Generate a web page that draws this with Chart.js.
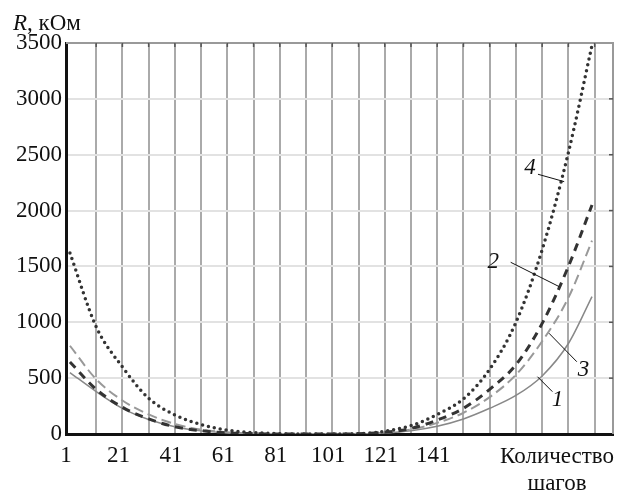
<!DOCTYPE html>
<html>
<head>
<meta charset="utf-8">
<script src="https://cdn.jsdelivr.net/npm/chart.js@4/dist/chart.umd.min.js"></script>
<style>
  html, body { margin: 0; padding: 0; background: #fff; }
  #wrap { width: 620px; height: 496px; }
</style>
</head>
<body>
<div id="wrap"><canvas id="chart" width="620" height="496"></canvas></div>
<script>
// step numbers and resistance curves (kOhm)
var steps = [1, 11, 21, 31, 41, 51, 61, 71, 81, 91, 101, 111, 121, 131, 141, 151, 161, 171, 181, 191, 200];
var r1 = [550, 380, 230, 130, 65, 28, 10, 3, 0, 0, 0, 2, 10, 30, 70, 135, 230, 345, 520, 810, 1230];
var r2 = [645, 400, 240, 135, 65, 30, 10, 3, 0, 0, 0, 2, 15, 50, 125, 230, 400, 620, 990, 1500, 2050];
var r3 = [790, 490, 300, 175, 90, 40, 15, 5, 0, 0, 0, 2, 12, 40, 100, 190, 330, 530, 830, 1220, 1730];
var r4 = [1620, 960, 600, 320, 170, 85, 35, 12, 3, 0, 0, 3, 25, 75, 175, 315, 580, 1000, 1650, 2520, 3480];

var xTicks = [1, 11, 21, 31, 41, 51, 61, 71, 81, 91, 101, 111, 121, 131, 141, 151, 161, 171, 181, 191, 201];
var xLabels = [1, 21, 41, 61, 81, 101, 121, 141];

// curve numbers with leader lines, in data units
var callouts = [
  { text: "4", tx: 176.4, ty: 2379, x1: 179.4, y1: 2325, x2: 189.4, y2: 2259 },
  { text: "2", tx: 162.4, ty: 1543, x1: 169.0, y1: 1537, x2: 187.5, y2: 1319 },
  { text: "3", tx: 196.8, ty: 573, x1: 183.6, y1: 902, x2: 194.2, y2: 647 },
  { text: "1", tx: 186.8, ty: 304, x1: 179.2, y1: 513, x2: 184.9, y2: 379 }
];

function pts(vals) {
  return steps.map(function(s, i) { return { x: s, y: vals[i] }; });
}

Chart.defaults.font.family = "'Liberation Serif', 'DejaVu Serif', serif";
Chart.defaults.font.size = 23;
Chart.defaults.color = "#111";

var extras = {
  id: "extras",
  afterDraw: function(chart) {
    var c = chart.ctx, a = chart.chartArea;
    var xs = chart.scales.x, ys = chart.scales.y;
    c.save();
    // top and right frame
    c.strokeStyle = "#999";
    c.lineWidth = 2;
    c.beginPath();
    c.moveTo(a.left, a.top);
    c.lineTo(a.right, a.top);
    c.lineTo(a.right, a.bottom);
    c.stroke();
    // small inward ticks on top and right
    c.strokeStyle = "#555";
    c.lineWidth = 1.5;
    xTicks.forEach(function(v) {
      if (v === 1) return;
      var px = xs.getPixelForValue(v);
      c.beginPath();
      c.moveTo(px, a.top);
      c.lineTo(px, a.top + 4);
      c.stroke();
    });
    for (var v = 500; v < 3500; v += 500) {
      var py = ys.getPixelForValue(v);
      c.beginPath();
      c.moveTo(a.right, py);
      c.lineTo(a.right - 4, py);
      c.stroke();
    }
    // callouts
    c.strokeStyle = "#111";
    c.lineWidth = 1;
    c.fillStyle = "#111";
    c.font = "italic 23px 'Liberation Serif'";
    c.textAlign = "center";
    c.textBaseline = "middle";
    callouts.forEach(function(o) {
      c.beginPath();
      c.moveTo(xs.getPixelForValue(o.x1), ys.getPixelForValue(o.y1));
      c.lineTo(xs.getPixelForValue(o.x2), ys.getPixelForValue(o.y2));
      c.stroke();
      c.fillText(o.text, xs.getPixelForValue(o.tx), ys.getPixelForValue(o.ty));
    });
    // axis titles
    c.textBaseline = "alphabetic";
    c.textAlign = "left";
    c.font = "italic 23px 'Liberation Serif'";
    c.fillText("R", 13, 30);
    var w = c.measureText("R").width;
    c.font = "23px 'Liberation Serif'";
    c.fillText(", кОм", 13 + w, 30);
    c.textAlign = "center";
    c.fillText("Количество", 557, 463);
    c.fillText("шагов", 557, 490);
    c.restore();
  }
};

var ctx = document.getElementById("chart").getContext("2d");
var chart = new Chart(ctx, {
  type: "line",
  data: {
    datasets: [
      { data: pts(r4), borderColor: "#333", borderWidth: 3.5, borderDash: [0, 6], borderCapStyle: "round" },
      { data: pts(r2), borderColor: "#333", borderWidth: 3, borderDash: [8, 6] },
      { data: pts(r3), borderColor: "#999", borderWidth: 2, borderDash: [10, 5] },
      { data: pts(r1), borderColor: "#888", borderWidth: 1.5 }
    ]
  },
  options: {
    responsive: false,
    animation: false,
    layout: { padding: { top: 43, right: 7, left: 0, bottom: 0 } },
    elements: {
      point: { radius: 0 },
      line: { cubicInterpolationMode: "monotone", fill: false }
    },
    plugins: { legend: { display: false }, tooltip: { enabled: false } },
    scales: {
      x: {
        type: "linear",
        min: -0.5,
        max: 208,
        afterBuildTicks: function(scale) {
          scale.ticks = xTicks.map(function(v) { return { value: v }; });
        },
        afterFit: function(scale) { scale.height = 62; },
        ticks: {
          autoSkip: false,
          maxRotation: 0,
          padding: 8,
          labelOffset: -4,
          callback: function(v) { return xLabels.indexOf(v) >= 0 ? String(v) : ""; }
        },
        grid: {
          drawTicks: false,
          lineWidth: 2,
          color: function(c) { return c.tick && c.tick.value === 1 ? "rgba(0,0,0,0)" : "#aaa"; }
        },
        border: { color: "#111", width: 3 }
      },
      y: {
        min: 0,
        max: 3500,
        afterFit: function(scale) { scale.width = 66; },
        ticks: {
          stepSize: 500,
          padding: 4,
          callback: function(v) { return String(v); }
        },
        grid: { drawTicks: false, lineWidth: 2, color: "#e2e2e2" },
        border: { color: "#111", width: 3 }
      }
    }
  },
  plugins: [extras]
});
</script>
</body>
</html>
